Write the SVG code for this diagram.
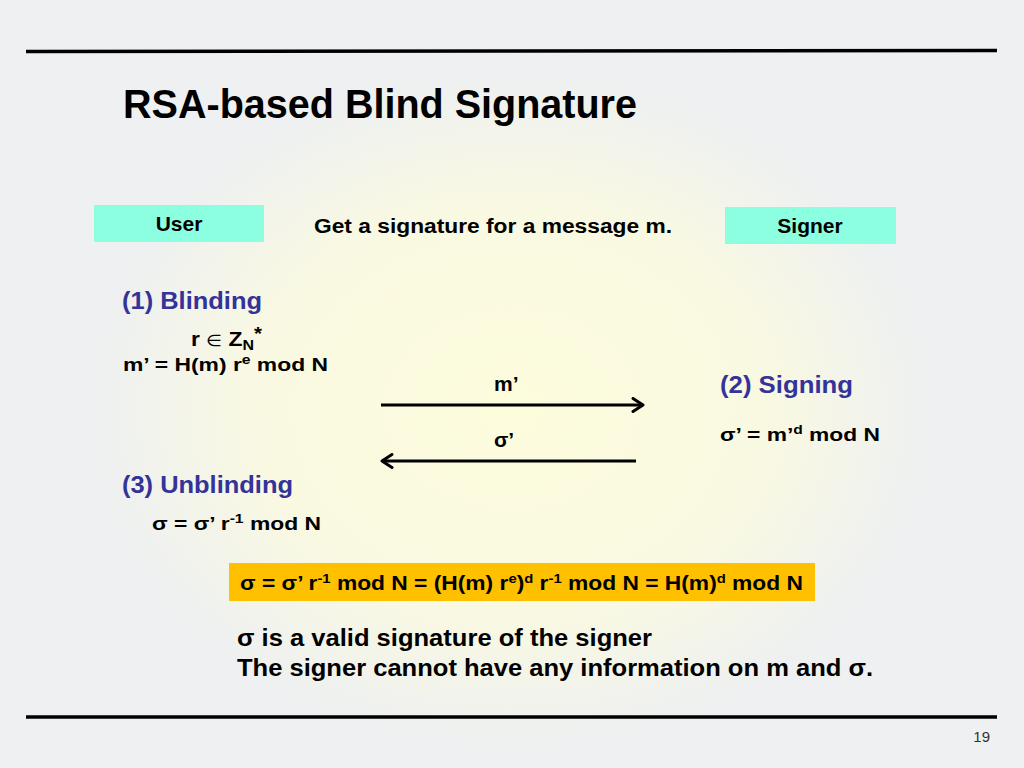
<svg xmlns="http://www.w3.org/2000/svg" width="1024" height="768" viewBox="0 0 1024 768">
  <defs>
    <radialGradient id="glow" cx="512" cy="410" r="420" gradientUnits="userSpaceOnUse" gradientTransform="translate(512 410) scale(1 0.8) translate(-512 -410)">
      <stop offset="0" stop-color="#fdfcdc"/>
      <stop offset="0.6" stop-color="#f9f9e2"/>
      <stop offset="1" stop-color="#eef0f1"/>
    </radialGradient>
    <marker id="chev" viewBox="0 0 14 16" refX="12" refY="8" markerWidth="14" markerHeight="16" markerUnits="userSpaceOnUse" orient="auto">
      <path d="M2,1.5 L12,8 L2,14.5" fill="none" stroke="#000" stroke-width="3" stroke-linecap="round" stroke-linejoin="round"/>
    </marker>
    <style>
      text { font-family: "Liberation Sans", Arial, Helvetica, sans-serif; font-weight: bold; fill: #000; }
      .blue { fill: #333399; }
      .rule { stroke: #000; stroke-width: 3.5; }
      .cyan { fill: #8cffe0; }
      .arrow { stroke: #000; stroke-width: 3; fill: none; marker-end: url(#chev); }
    </style>
  </defs>

  <rect x="0" y="0" width="1024" height="768" fill="#eef0f1"/>
  <rect x="0" y="0" width="1024" height="768" fill="url(#glow)"/>

  <line class="rule" x1="26" y1="51.5" x2="997" y2="50.5"/>
  <line class="rule" x1="26" y1="717" x2="997" y2="717"/>

  <text x="123" y="118" font-size="40" textLength="514" lengthAdjust="spacingAndGlyphs">RSA-based Blind Signature</text>

  <g id="user">
    <rect class="cyan" x="94" y="205" width="170" height="37"/>
    <text x="179" y="231" font-size="21" text-anchor="middle">User</text>
  </g>
  <g id="goal">
    <text x="314" y="233" font-size="20" textLength="358" lengthAdjust="spacingAndGlyphs">Get a signature for a message m.</text>
  </g>
  <g id="signer">
    <rect class="cyan" x="725" y="207" width="171" height="37"/>
    <text x="810" y="233" font-size="21" text-anchor="middle">Signer</text>
  </g>

  <g id="blinding">
    <text class="blue" x="122" y="309" font-size="24" textLength="140" lengthAdjust="spacingAndGlyphs">(1) Blinding</text>
    <text x="191" y="346" font-size="20" textLength="71" lengthAdjust="spacingAndGlyphs">r <tspan font-weight="normal" font-family="DejaVu Sans, sans-serif" font-size="16">∈</tspan> Z<tspan font-size="14" dy="4">N</tspan><tspan dy="-10" font-size="18">*</tspan></text>
    <text x="123" y="371" font-size="19" textLength="205" lengthAdjust="spacingAndGlyphs">m’ = H(m) r<tspan font-size="13" dy="-7">e</tspan><tspan dy="7"> mod N</tspan></text>
  </g>

  <g id="connectors">
    <line class="arrow" x1="381" y1="405" x2="643" y2="405"/>
    <line class="arrow" x1="636" y1="461" x2="382" y2="461"/>
    <text x="494" y="391" font-size="21">m’</text>
    <text x="494" y="447" font-size="21">σ’</text>
  </g>

  <g id="signing">
    <text class="blue" x="720" y="393" font-size="24" textLength="133" lengthAdjust="spacingAndGlyphs">(2) Signing</text>
    <text x="720" y="441" font-size="19" textLength="160" lengthAdjust="spacingAndGlyphs">σ’ = m’<tspan font-size="13" dy="-7">d</tspan><tspan dy="7"> mod N</tspan></text>
  </g>

  <g id="unblinding">
    <text class="blue" x="122" y="493" font-size="24" textLength="171" lengthAdjust="spacingAndGlyphs">(3) Unblinding</text>
    <text x="152" y="530" font-size="19" textLength="169" lengthAdjust="spacingAndGlyphs">σ = σ’ r<tspan font-size="13" dy="-7">-1</tspan><tspan dy="7"> mod N</tspan></text>
  </g>

  <g id="result">
    <rect x="229" y="563" width="586" height="38" fill="#ffc000"/>
    <text x="240" y="590" font-size="20" textLength="563" lengthAdjust="spacingAndGlyphs">σ = σ’ r<tspan font-size="13" dy="-7">-1</tspan><tspan dy="7"> mod N = (H(m) r</tspan><tspan font-size="13" dy="-7">e</tspan><tspan dy="7">)</tspan><tspan font-size="13" dy="-7">d</tspan><tspan dy="7"> r</tspan><tspan font-size="13" dy="-7">-1</tspan><tspan dy="7"> mod N = H(m)</tspan><tspan font-size="13" dy="-7">d</tspan><tspan dy="7"> mod N</tspan></text>
  </g>

  <g id="conclusion">
    <text x="237" y="646" font-size="23" textLength="415" lengthAdjust="spacingAndGlyphs">σ is a valid signature of the signer</text>
    <text x="237" y="676" font-size="23" textLength="636" lengthAdjust="spacingAndGlyphs">The signer cannot have any information on m and σ.</text>
  </g>

  <text x="990" y="742" font-size="15" text-anchor="end" style="font-weight:normal;fill:#333">19</text>
</svg>
